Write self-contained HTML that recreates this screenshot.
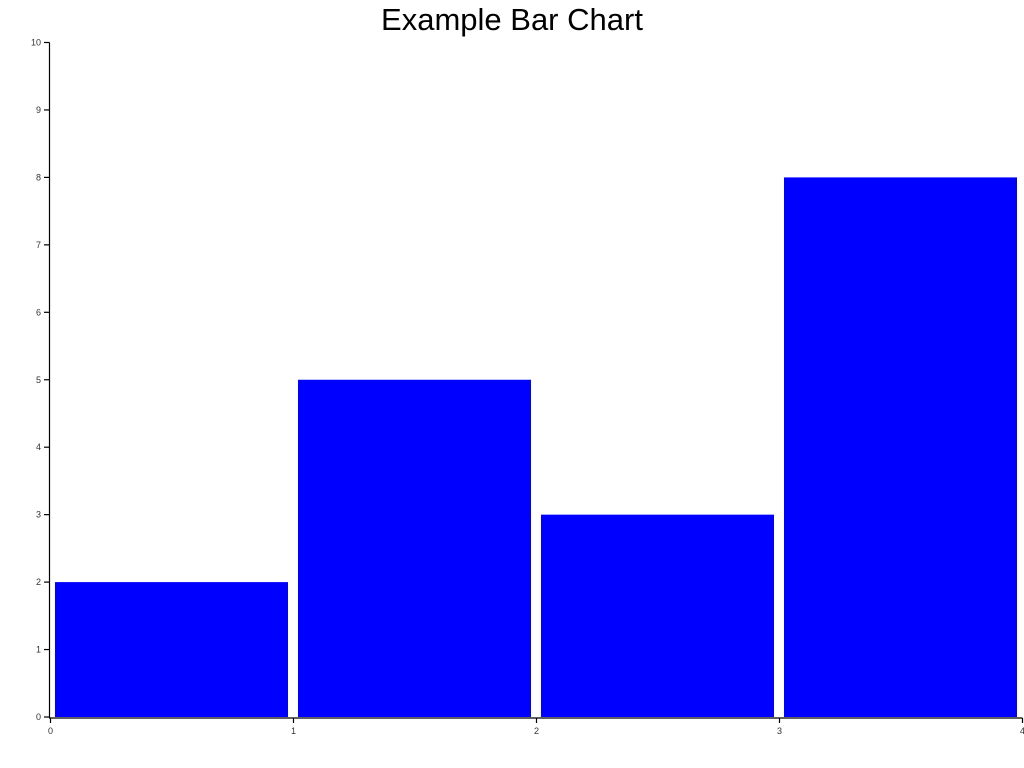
<!DOCTYPE html>
<html><head><meta charset="utf-8"><style>
html,body{margin:0;padding:0;background:#fff;}
svg{display:block;}
text{font-family:"Liberation Sans","DejaVu Sans",sans-serif;}
</style></head><body>
<svg id="chart" width="1024" height="768">
<text x="512" y="30" text-anchor="middle" font-size="31" fill="#000">Example Bar Chart</text>
<g id="bars"></g>
<g id="yaxis"></g>
<g id="xaxis"></g>
</svg>
<script>
const categories = [0, 1, 2, 3];
const values = [2, 5, 3, 8];
const yTicks = [0,1,2,3,4,5,6,7,8,9,10];
const xTicks = [0,1,2,3,4];

const NS = "http://www.w3.org/2000/svg";
const x = v => 50.5 + v * 243;
const y = v => 717 - v * 67.45;
function mk(tag, attrs, parent){
  const e = document.createElementNS(NS, tag);
  for (const k in attrs) e.setAttribute(k, attrs[k]);
  parent.appendChild(e);
  return e;
}
const gb = document.getElementById('bars');
categories.forEach((c, i) => {
  const r = mk('rect', {x: x(c) + 4.5, y: y(values[i]), width: 243 - 10, height: y(0) - y(values[i]), fill: '#0000ff'}, gb);
  
  
});
const gy = document.getElementById('yaxis');
mk('line', {x1: 49.5, x2: 49.5, y1: y(10), y2: 718.5, stroke: '#000', 'stroke-width': 1.2}, gy);
yTicks.forEach(t => {
  mk('line', {x1: 44, x2: 49.5, y1: y(t), y2: y(t), stroke: '#000', 'stroke-width': 1.2}, gy);
  const tx = mk('text', {x: 41, y: y(t) + 3, 'text-anchor': 'end', 'font-size': 9, fill: '#333'}, gy);
  tx.textContent = t;
  
  
});
const gx = document.getElementById('xaxis');
mk('line', {x1: 49, x2: x(4), y1: 718, y2: 718, stroke: '#000', 'stroke-width': 1.2}, gx);
xTicks.forEach(t => {
  mk('line', {x1: x(t), x2: x(t), y1: 718, y2: 723, stroke: '#000', 'stroke-width': 1.2}, gx);
  const tx = mk('text', {x: x(t), y: 734, 'text-anchor': 'middle', 'font-size': 9, fill: '#333'}, gx);
  tx.textContent = t;
  
  
});
</script>
</body></html>
